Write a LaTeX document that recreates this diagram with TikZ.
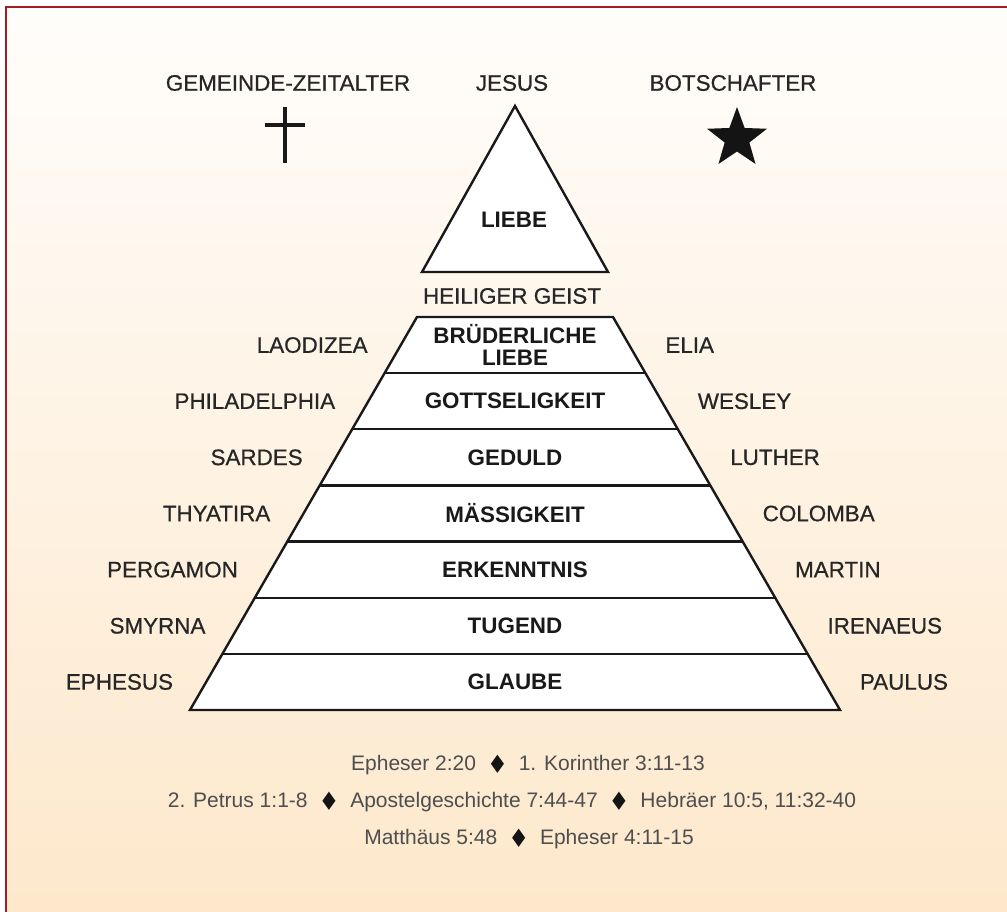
\documentclass[tikz,border=0pt]{standalone}
\usepackage{fontspec}
\setmainfont{Liberation Sans}
\newfontfamily\dejavu{DejaVu Sans}
\newfontfamily\medfont{Liberation Sans}[FakeBold=0.6]
\definecolor{framered}{HTML}{A51C24}
\definecolor{bgtop}{HTML}{FFFDFB}
\definecolor{bgmid}{HTML}{FDF3E6}
\definecolor{bgbot}{HTML}{FDE8CB}
\definecolor{reftext}{HTML}{4E4E4E}
\newcommand\dia{\hspace{0.7em}{\color{black!92}\dejavu\fontsize{24}{24}\selectfont\scalebox{0.72}[1]{◆}}\hspace{0.7em}}
\begin{document}
\begin{tikzpicture}[x=1pt,y=1pt,
  outer/.style={font=\medfont\fontsize{22.4}{24}\selectfont, text=black!85, inner sep=0pt},
  inner/.style={font=\bfseries\fontsize{22.4}{22.5}\selectfont, align=center, inner sep=0pt, text=black!90},
  ref/.style={font=\fontsize{21}{22}\selectfont, text=reftext, inner sep=0pt},
  pyr/.style={line width=2.4pt, draw=black!90, line join=miter}]
\useasboundingbox (0,0) rectangle (1007,-912);
\fill[white] (0,0) rectangle (1007,-912);
\shade[top color=bgtop, middle color=bgmid, bottom color=bgbot] (6,-7) rectangle (1010,-915);
\draw[framered, line width=2.5pt] (6,-915) -- (6,-7) -- (1010,-7);

% top labels and symbols
\node[outer] (ga) at (288,-83) {GEMEINDE-ZEITALTER};
\node[outer] (jesus) at (512,-83) {JESUS};
\node[outer] (bot) at (733,-83) {BOTSCHAFTER};
\draw[line width=3.4pt, black!90] (285,-107) -- (285,-163);
\draw[line width=3.4pt, black!90] (265,-125) -- (305,-125);
\fill[black!92, shift={(737,-138.5)}] (90:31.5) -- (126:13) -- (162:31.5) -- (198:13) -- (234:31.5) -- (270:13) -- (306:31.5) -- (342:13) -- (18:31.5) -- (54:13) -- cycle;

% top triangle
\filldraw[pyr, fill=white] (515,-106) -- (608,-272) -- (422,-272) -- cycle;
\node[inner] (liebe) at (514,-220) {LIEBE};
\node[outer] (hg) at (512,-296) {HEILIGER GEIST};

% pyramid
\fill[white] (417,-317) -- (613,-317) -- (840,-710) -- (190,-710) -- cycle;
\foreach \k in {1,...,6} {
  \pgfmathsetmacro\yy{317+56.143*\k}
  \pgfmathsetmacro\hw{98+(\yy-317)*0.5776}
  \draw[pyr] ({515-\hw},-\yy) -- ({515+\hw},-\yy);
}
\draw[pyr] (417,-317) -- (613,-317) -- (840,-710) -- (190,-710) -- cycle;

\foreach \m/\l/\r [count=\k from 0] in {{BRÜDERLICHE\\LIEBE}/LAODIZEA/ELIA, GOTTSELIGKEIT/PHILADELPHIA/WESLEY, GEDULD/SARDES/LUTHER, MÄSSIGKEIT/THYATIRA/COLOMBA, ERKENNTNIS/PERGAMON/MARTIN, TUGEND/SMYRNA/IRENAEUS, GLAUBE/EPHESUS/PAULUS} {
  \pgfmathsetmacro\yc{317+56.143*(\k+0.5)}
  \pgfmathsetmacro\hw{98+(\yc-317)*0.5776}
  \node[inner] (m\k) at (515,-\yc) {\m};
  \node[outer, anchor=east] (l\k) at ({515-\hw-33},-\yc) {\l};
  \node[outer, anchor=west] (r\k) at ({515+\hw+36},-\yc) {\r};
}

% references
\node[ref] (ref1) at (528,-765) {Epheser 2:20\dia 1. Korinther 3:11-13};
\node[ref] (ref2) at (512,-802) {2. Petrus 1:1-8\dia Apostelgeschichte 7:44-47\dia Hebräer 10:5, 11:32-40};
\node[ref] (ref3) at (529,-839) {Matthäus 5:48\dia Epheser 4:11-15};
\end{tikzpicture}
\end{document}
